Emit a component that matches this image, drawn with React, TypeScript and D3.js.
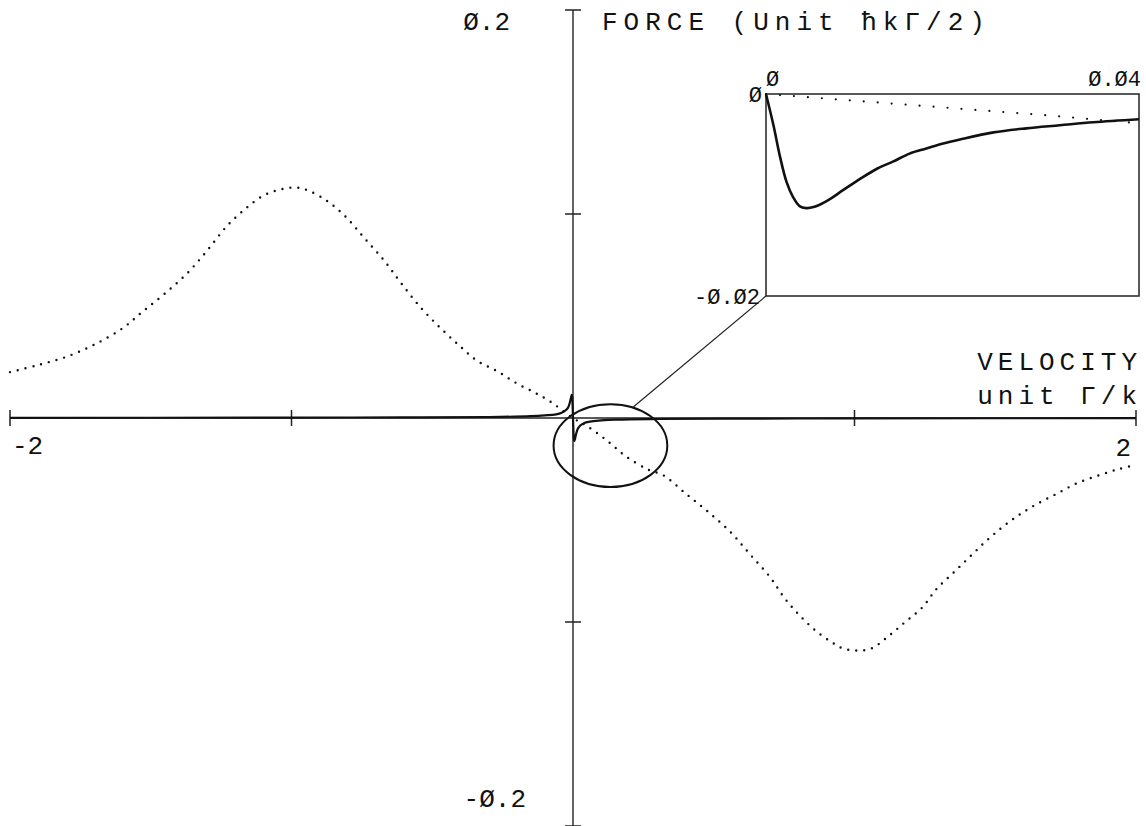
import React, { useEffect, useRef } from "react";
import * as d3 from "d3";

const W = 1146;
const H = 826;

// dotted curve: force vs velocity (Doppler)
const dotVel = [-2.0, -1.9, -1.8, -1.7, -1.6, -1.53, -1.45, -1.37, -1.3, -1.23, -1.16, -1.1, -1.04, -0.99, -0.95, -0.88, -0.81, -0.74, -0.67, -0.61, -0.54, -0.47, -0.4, -0.34, -0.27, -0.2, -0.13, -0.08, 0, 0.05, 0.12, 0.19, 0.27, 0.32, 0.4, 0.48, 0.56, 0.63, 0.7, 0.75, 0.8, 0.86, 0.92, 0.96, 1.01, 1.06, 1.12, 1.18, 1.24, 1.29, 1.35, 1.41, 1.47, 1.53, 1.59, 1.65, 1.72, 1.79, 1.87, 1.94, 2.0];
const dotForce = [0.0225, 0.026, 0.03, 0.036, 0.044, 0.052, 0.061, 0.071, 0.082, 0.094, 0.103, 0.109, 0.112, 0.113, 0.112, 0.107, 0.099, 0.088, 0.077, 0.066, 0.054, 0.044, 0.035, 0.028, 0.023, 0.017, 0.012, 0.008, 0, -0.004, -0.011, -0.019, -0.0255, -0.028, -0.037, -0.046, -0.056, -0.067, -0.078, -0.088, -0.096, -0.104, -0.11, -0.113, -0.114, -0.113, -0.107, -0.1, -0.093, -0.084, -0.076, -0.068, -0.06, -0.053, -0.047, -0.042, -0.037, -0.032, -0.028, -0.025, -0.023];

// solid curve: sharp feature near zero velocity
const solidVel = [-2, -1, -0.6, -0.3, -0.15, -0.1, -0.06, -0.04, -0.025, -0.015, -0.01, -0.007, -0.0045, -0.003, -0.0015, 0, 0.0015, 0.003, 0.0045, 0.007, 0.01, 0.015, 0.025, 0.04, 0.06, 0.1, 0.15, 0.3, 0.6, 1, 2];
const solidForce = [0.0001, 0.0002, 0.0003, 0.0005, 0.0009, 0.0013, 0.0018, 0.0026, 0.0039, 0.0058, 0.0083, 0.01, 0.0113, 0.0105, 0.0065, 0, -0.0062, -0.0104, -0.0113, -0.0104, -0.0084, -0.0059, -0.0038, -0.0025, -0.0018, -0.0012, -0.0008, -0.0005, -0.0003, -0.0002, -0.0001];

// inset (zoom on 0..0.04)
const insetVel = [0, 0.0008, 0.0015, 0.0022, 0.0029, 0.0036, 0.0043, 0.0051, 0.0065, 0.0083, 0.0101, 0.0119, 0.0136, 0.0154, 0.0172, 0.019, 0.0208, 0.0244, 0.0279, 0.0315, 0.0351, 0.04];
const insetForce = [0, -0.0031, -0.0062, -0.0087, -0.0102, -0.0111, -0.0113, -0.0112, -0.0106, -0.0095, -0.0084, -0.0074, -0.0067, -0.0059, -0.0054, -0.0049, -0.0045, -0.0038, -0.0034, -0.0031, -0.0028, -0.0025];
const insetDotVel = [0, 0.01, 0.02, 0.03, 0.04];
const insetDotForce = [0, -0.0007, -0.0014, -0.0021, -0.0029];

const xTicks = [-2, -1, 1, 2];
const yTicks = [-0.2, -0.1, 0.1, 0.2];
const xTickLabels = ["-2", "2"];
const yTickLabels = ["Ø.2", "-Ø.2"];
const insetXLabels = ["Ø", "Ø.Ø4"];
const insetYLabels = ["Ø", "-Ø.Ø2"];

const FONT = "Liberation Mono, DejaVu Sans Mono, monospace";

export default function App() {
  const svgRef = useRef<SVGSVGElement>(null);

  useEffect(() => {
    if (!svgRef.current) return;
    const svg = d3.select(svgRef.current);
    svg.selectAll("*").remove();

    const x = d3.scaleLinear().domain([-2, 2]).range([10, 1136]);
    const y = d3.scaleLinear().domain([-0.2, 0.2]).range([826, 10]);
    const x0 = x(0), y0 = y(0);

    // axes
    svg.append("line").attr("x1", x(-2)).attr("x2", x(2)).attr("y1", y0).attr("y2", y0)
      .attr("stroke", "#222").attr("stroke-width", 1.4);
    svg.append("line").attr("x1", x0).attr("x2", x0).attr("y1", y(0.2)).attr("y2", y(-0.2))
      .attr("stroke", "#222").attr("stroke-width", 1.4);

    xTicks.forEach(t => {
      svg.append("line").attr("x1", x(t)).attr("x2", x(t)).attr("y1", y0 - 8).attr("y2", y0 + 8)
        .attr("stroke", "#222").attr("stroke-width", 1.5);
    });
    yTicks.forEach(t => {
      svg.append("line").attr("x1", x0 - 8).attr("x2", x0 + 8).attr("y1", y(t)).attr("y2", y(t))
        .attr("stroke", "#222").attr("stroke-width", 1.5);
    });

    const txt = (s: string, px: number, py: number, anchor: string, size: number, spacing = 0) =>
      svg.append("text").text(s).attr("x", px).attr("y", py).attr("text-anchor", anchor)
        .attr("font-family", FONT).attr("font-size", size).attr("letter-spacing", spacing)
        .attr("fill", "#111");

    // axis labels
    txt(yTickLabels[0], 510, y(0.2) + 20, "end", 26);
    txt(yTickLabels[1], 526, y(-0.2) - 19, "end", 26);
    txt(xTickLabels[0], 12, y0 + 36, "start", 26);
    txt(xTickLabels[1], 1131, y0 + 38, "end", 26);
    txt("FORCE (Unit ħkΓ/2)", 602, 30, "start", 26, 6);
    txt("VELOCITY", 1142, y0 - 48, "end", 26, 5);
    txt("unit Γ/k", 1142, y0 - 14, "end", 26, 5);

    // main curves
    const dotPts = dotVel.map((v, i) => [x(v), y(dotForce[i])] as [number, number]);
    svg.append("path").attr("d", d3.line().curve(d3.curveCatmullRom)(dotPts))
      .attr("fill", "none").attr("stroke", "#111").attr("stroke-width", 2.4)
      .attr("stroke-linecap", "round").attr("stroke-dasharray", "0 8");

    const solidPts = solidVel.map((v, i) => [x(v), y(solidForce[i])] as [number, number]);
    svg.append("path").attr("d", d3.line().curve(d3.curveMonotoneX)(solidPts))
      .attr("fill", "none").attr("stroke", "#111").attr("stroke-width", 2.2);

    // ellipse around origin feature
    const ecx = x(0.133), ecy = y(-0.0135);
    const erx = x(0.202) - x(0), ery = y(0) - y(0.0203);
    svg.append("ellipse").attr("cx", ecx).attr("cy", ecy).attr("rx", erx).attr("ry", ery)
      .attr("fill", "none").attr("stroke", "#111").attr("stroke-width", 2);

    // inset
    const ix = d3.scaleLinear().domain([0, 0.04]).range([766, 1139]);
    const iy = d3.scaleLinear().domain([-0.02, 0]).range([296, 94]);
    svg.append("rect").attr("x", ix(0)).attr("y", iy(0)).attr("width", ix(0.04) - ix(0))
      .attr("height", iy(-0.02) - iy(0)).attr("fill", "none").attr("stroke", "#222").attr("stroke-width", 1.5);

    const ang = (67 * Math.PI) / 180;
    svg.append("line").attr("x1", ecx + erx * Math.cos(ang)).attr("y1", ecy - ery * Math.sin(ang))
      .attr("x2", ix(0)).attr("y2", iy(-0.02)).attr("stroke", "#222").attr("stroke-width", 1.2);

    const iPts = insetVel.map((v, i) => [ix(v), iy(insetForce[i])] as [number, number]);
    svg.append("path").attr("d", d3.line().curve(d3.curveCatmullRom)(iPts))
      .attr("fill", "none").attr("stroke", "#111").attr("stroke-width", 2.6);
    const iDots = insetDotVel.map((v, i) => [ix(v), iy(insetDotForce[i])] as [number, number]);
    svg.append("path").attr("d", d3.line()(iDots))
      .attr("fill", "none").attr("stroke", "#111").attr("stroke-width", 2.2)
      .attr("stroke-linecap", "round").attr("stroke-dasharray", "0 14");

    txt(insetXLabels[0], ix(0), iy(0) - 8, "start", 22);
    txt(insetXLabels[1], ix(0.04) + 2, iy(0) - 8, "end", 22);
    txt(insetYLabels[0], ix(0) - 4, iy(0) + 8, "end", 22);
    txt(insetYLabels[1], ix(0) - 6, iy(-0.02) + 8, "end", 22);
  }, []);

  return (
    <svg ref={svgRef} width={W} height={H}
      style={{ position: "absolute", left: 0, top: 0, background: "#fff", display: "block" }} />
  );
}
